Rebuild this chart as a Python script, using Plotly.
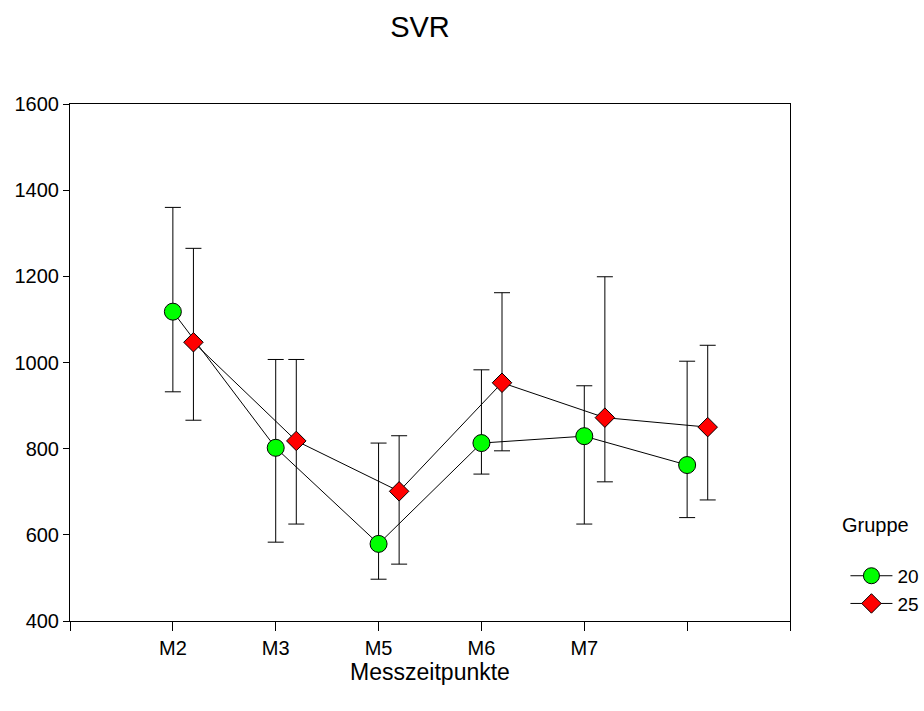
import plotly.graph_objects as go

# ---- data ----
tick_labels = ["", "M2", "M3", "M5", "M6", "M7", "", ""]
positions = [1, 2, 3, 4, 5, 6]

g20_mean = [1118, 802, 579, 813, 829, 762]
g20_upper = [1360, 1007, 813, 983, 946, 1003]
g20_lower = [932, 583, 497, 741, 625, 640]

g25_mean = [1047, 818, 701, 953, 872, 850]
g25_upper = [1265, 1007, 830, 1162, 1199, 1040]
g25_lower = [866, 625, 532, 795, 723, 681]

offset_25 = 0.2
FONT = "Liberation Sans, Arial, sans-serif"

def err(mean, up, lo):
    return dict(type="data", symmetric=False,
                array=[u - m for u, m in zip(up, mean)],
                arrayminus=[m - l for m, l in zip(mean, lo)],
                color="black", thickness=1, width=8)

fig = go.Figure()
fig.add_trace(go.Scatter(
    x=positions, y=g20_mean, name="20", mode="lines+markers",
    line=dict(color="black", width=1),
    marker=dict(symbol="circle", size=17, color="#00FF00",
                line=dict(color="black", width=1)),
    error_y=err(g20_mean, g20_upper, g20_lower)))
fig.add_trace(go.Scatter(
    x=[p + offset_25 for p in positions], y=g25_mean, name="25", mode="lines+markers",
    line=dict(color="black", width=1),
    marker=dict(symbol="diamond", size=15, color="#FF0000",
                line=dict(color="black", width=1)),
    error_y=err(g25_mean, g25_upper, g25_lower)))

fig.update_layout(
    width=924, height=711,
    paper_bgcolor="white", plot_bgcolor="white",
    font=dict(family=FONT, size=20, color="black"),
    margin=dict(l=70, r=134, t=104, b=90, pad=0, autoexpand=False),
    title=dict(text="SVR", x=420/924, xref="container", xanchor="center",
               y=1 - 27/711, yref="container", yanchor="middle",
               font=dict(size=29, family=FONT, color="black")),
    showlegend=True,
    legend=dict(x=1.077, y=0.124, xanchor="left", yanchor="top",
                font=dict(size=19, family=FONT), bgcolor="rgba(0,0,0,0)",
                tracegroupgap=0, itemwidth=42),
    annotations=[dict(text="Gruppe", x=1.07, y=0.185, xref="paper", yref="paper",
                      xanchor="left", yanchor="middle", showarrow=False,
                      font=dict(size=20, family=FONT))],
)
fig.update_xaxes(range=[0, 7], tickmode="array", tickvals=list(range(8)),
                 ticktext=tick_labels, showgrid=False, zeroline=False,
                 showline=True, linecolor="black", linewidth=1, mirror=True,
                 ticks="outside", ticklen=9, tickcolor="black", tickwidth=1,
                 tickfont=dict(size=20),
                 title=dict(text="Messzeitpunkte", font=dict(size=23), standoff=4))
fig.update_yaxes(range=[400, 1600], tickmode="array",
                 tickvals=[400, 600, 800, 1000, 1200, 1400, 1600],
                 showgrid=False, zeroline=False,
                 showline=True, linecolor="black", linewidth=1, mirror=True,
                 ticks="outside", ticklen=6, tickcolor="black", tickwidth=1,
                 tickfont=dict(size=20))

fig.write_html("out.html")
